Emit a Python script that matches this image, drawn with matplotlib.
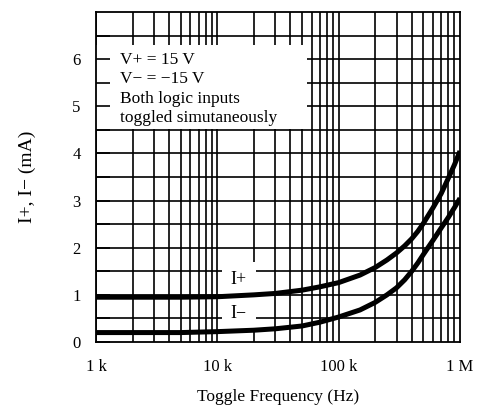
import matplotlib
matplotlib.use("Agg")
import matplotlib.pyplot as plt
import matplotlib.transforms as mtransforms
from matplotlib.patches import Rectangle
import numpy as np

plt.rcParams["font.family"] = ["Liberation Serif", "DejaVu Serif"]

# toggle frequency (Hz) and supply currents (mA)
freq_hz = [1e3, 2e3, 5e3, 1e4, 2e4, 3e4, 5e4, 7e4, 1e5, 1.5e5, 2e5, 2.5e5,
           3e5, 3.5e5, 4e5, 4.5e5, 5e5, 6e5, 7e5, 8e5, 9e5, 1e6]
i_plus = [0.95, 0.95, 0.95, 0.96, 1.00, 1.03, 1.10, 1.17, 1.26, 1.42, 1.58,
          1.74, 1.89, 2.04, 2.19, 2.35, 2.52, 2.85, 3.15, 3.47, 3.76, 4.05]
i_minus = [0.20, 0.20, 0.20, 0.22, 0.25, 0.28, 0.34, 0.42, 0.53, 0.68, 0.84,
           1.00, 1.15, 1.32, 1.50, 1.68, 1.86, 2.16, 2.42, 2.64, 2.85, 3.05]

x_ticks = [1e3, 1e4, 1e5, 1e6]
x_ticklabels = ["1 k", "10 k", "100 k", "1 M"]
y_ticks = [0, 1, 2, 3, 4, 5, 6]
note_lines = ["V+ = 15 V", "V\u2212 = \u221215 V", "Both logic inputs",
              "toggled simutaneously"]

fig = plt.figure(figsize=(4.87, 4.13), dpi=100)
ax = fig.add_axes([96/487, 71/413, 364/487, 330/413])
ax.set_xscale("log")
ax.set_xlim(1e3, 1e6)
ax.set_ylim(0, 7)

# grid drawn by hand so that the white boxes can sit between grid and ticks
for dec in [1e3, 1e4, 1e5]:
    for m in range(1, 10):
        ax.axvline(dec*m, color="black", lw=1.2, zorder=0.8)
for yv in np.arange(0.5, 7, 0.5):
    ax.axhline(yv, color="black", lw=1.2, zorder=0.8)

# condition box
trans = mtransforms.blended_transform_factory(ax.transAxes, ax.transData)
ax.add_patch(Rectangle((0, 4.52), 0.58, 1.78, transform=trans,
                       facecolor="white", edgecolor="none", zorder=1))
for k, line in enumerate(note_lines):
    ax.text(0.066, 5.98 - k*0.41, line, transform=trans, fontsize=12.5,
            va="center", ha="left", zorder=2)

ax.plot(freq_hz, i_plus, color="black", lw=3.6, zorder=3,
        solid_capstyle="butt")
ax.plot(freq_hz, i_minus, color="black", lw=3.6, zorder=3,
        solid_capstyle="butt")

box = dict(boxstyle="square,pad=0.5", facecolor="white", edgecolor="none")
ax.text(1.5e4, 1.32, "I+", fontsize=13, ha="center", va="center",
        bbox=box, zorder=2)
ax.text(1.5e4, 0.6, "I\u2212", fontsize=13, ha="center", va="center",
        bbox=box, zorder=2)

ax.set_xticks(x_ticks)
ax.set_xticklabels(x_ticklabels)
ax.xaxis.set_minor_locator(matplotlib.ticker.NullLocator())
ax.set_yticks(y_ticks)
ax.set_yticks(np.arange(0.5, 7, 1.0), minor=True)
ax.tick_params(axis="x", which="both", length=0, pad=12, labelsize=12)
ax.tick_params(axis="y", which="both", direction="in", length=10, width=1.2,
               pad=11, labelsize=12)
for sp in ax.spines.values():
    sp.set_linewidth(1.3)

ax.set_xlabel("Toggle Frequency (Hz)", fontsize=12.5, labelpad=10)
ax.set_ylabel("I+, I\u2212 (mA)", fontsize=14, labelpad=26)

fig.savefig("out.png", dpi=100)
